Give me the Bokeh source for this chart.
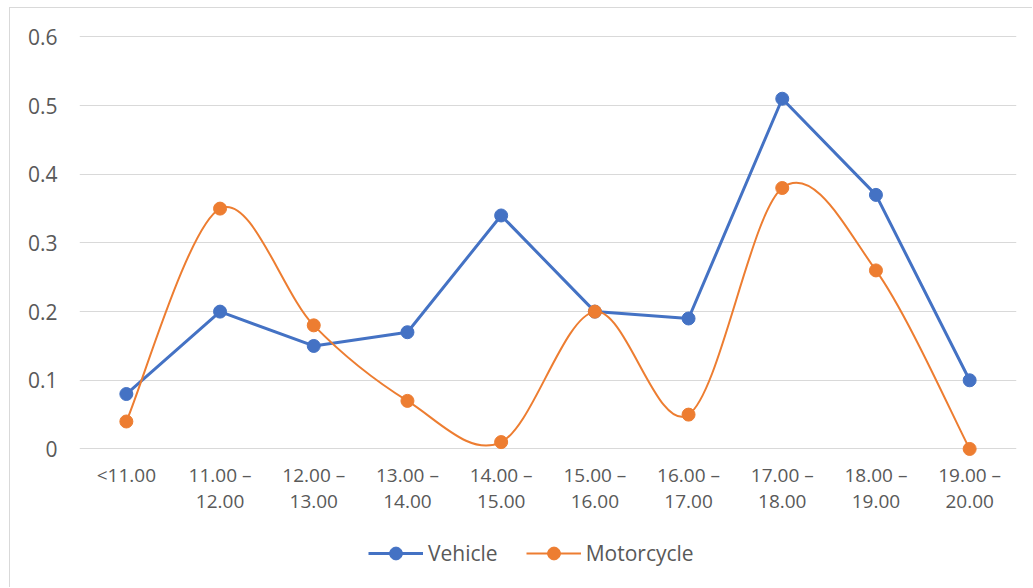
import numpy as np
from bokeh.plotting import figure
from bokeh.models import Range1d, FactorRange, FixedTicker, Legend, LegendItem
from bokeh.embed import file_html
from bokeh.resources import INLINE

# ---- data ----
categories = ["<11.00", "11.00 –\n12.00", "12.00 –\n13.00", "13.00 –\n14.00",
              "14.00 –\n15.00", "15.00 –\n16.00", "16.00 –\n17.00",
              "17.00 –\n18.00", "18.00 –\n19.00", "19.00 –\n20.00"]
vehicle = [0.08, 0.20, 0.15, 0.17, 0.34, 0.20, 0.19, 0.51, 0.37, 0.10]
motorcycle = [0.04, 0.35, 0.18, 0.07, 0.01, 0.20, 0.05, 0.38, 0.26, 0.00]
y_ticks = [0, 0.1, 0.2, 0.3, 0.4, 0.5, 0.6]
y_labels = ["0", "0.1", "0.2", "0.3", "0.4", "0.5", "0.6"]

BLUE = "#4472C4"
ORANGE = "#ED7D31"
TEXT = "#595959"
GRID = "#D9D9D9"
FONT = "Open Sans"

# frame reaches the bottom of the figure; x axis is pinned at y = 0
p = figure(x_range=FactorRange(factors=categories, range_padding=0),
           y_range=Range1d(-0.2032, 0.605),
           width=1023, height=580,
           min_border_left=69, min_border_right=17, min_border_top=25,
           min_border_bottom=0,
           output_backend="svg", toolbar_location=None)
p.styles = {"margin-left": "9px", "margin-top": "7px",
            "border-left": "1px solid #D9D9D9", "border-top": "1px solid #D9D9D9"}
p.outline_line_color = None
p.background_fill_color = "white"
p.border_fill_color = "white"

# axes
p.xgrid.visible = False
p.ygrid.grid_line_color = GRID
p.ygrid.grid_line_width = 1
p.yaxis.ticker = FixedTicker(ticks=y_ticks)
p.yaxis.major_label_overrides = {t: l for t, l in zip(y_ticks, y_labels)}
for ax in (p.xaxis, p.yaxis):
    ax.axis_line_color = None
    ax.major_tick_line_color = None
    ax.minor_tick_line_color = None
    ax.major_tick_out = 0
    ax.major_tick_in = 0
    ax.major_label_text_color = TEXT
    ax.major_label_text_font = FONT
p.yaxis.major_label_text_font_size = "21px"
p.yaxis.major_label_standoff = 22
p.xaxis.fixed_location = 0
p.xaxis.major_label_text_font_size = "19px"
p.xaxis.major_label_standoff = 13
p.xaxis.major_label_text_line_height = 1.0

# Vehicle: straight line
vl = p.line(x=categories, y=vehicle, line_color=BLUE, line_width=3)
vs = p.scatter(x=categories, y=vehicle, size=13, fill_color=BLUE, line_color=BLUE)

# Motorcycle: smoothed line (Catmull-Rom style Bezier segments from the data)
n = len(motorcycle)
xs = np.arange(n) + 0.5
ys = np.array(motorcycle, dtype=float)
x0, y0, x1, y1, cx0, cy0, cx1, cy1 = ([] for _ in range(8))
for i in range(n - 1):
    a = max(i - 1, 0)
    b = min(i + 2, n - 1)
    x0.append(xs[i]); y0.append(ys[i])
    x1.append(xs[i + 1]); y1.append(ys[i + 1])
    cx0.append(xs[i] + (xs[i + 1] - xs[a]) / 6)
    cy0.append(ys[i] + (ys[i + 1] - ys[a]) / 6)
    cx1.append(xs[i + 1] - (xs[b] - xs[i]) / 6)
    cy1.append(ys[i + 1] - (ys[b] - ys[i]) / 6)
mb = p.bezier(x0=x0, y0=y0, x1=x1, y1=y1, cx0=cx0, cy0=cy0, cx1=cx1, cy1=cy1,
              line_color=ORANGE, line_width=2)
ms = p.scatter(x=categories, y=motorcycle, size=13, fill_color=ORANGE, line_color=ORANGE)

legend = Legend(items=[LegendItem(label="Vehicle", renderers=[vl, vs]),
                       LegendItem(label="Motorcycle", renderers=[mb, ms])],
                orientation="horizontal", location=(289, 19),
                label_text_font=FONT, label_text_font_size="21px",
                label_text_color=TEXT, glyph_width=55, glyph_height=32,
                label_standoff=5, spacing=28, padding=0, margin=0,
                border_line_color=None, background_fill_alpha=0)
p.add_layout(legend, "center")

open("out.html", "w").write(file_html(p, INLINE))
